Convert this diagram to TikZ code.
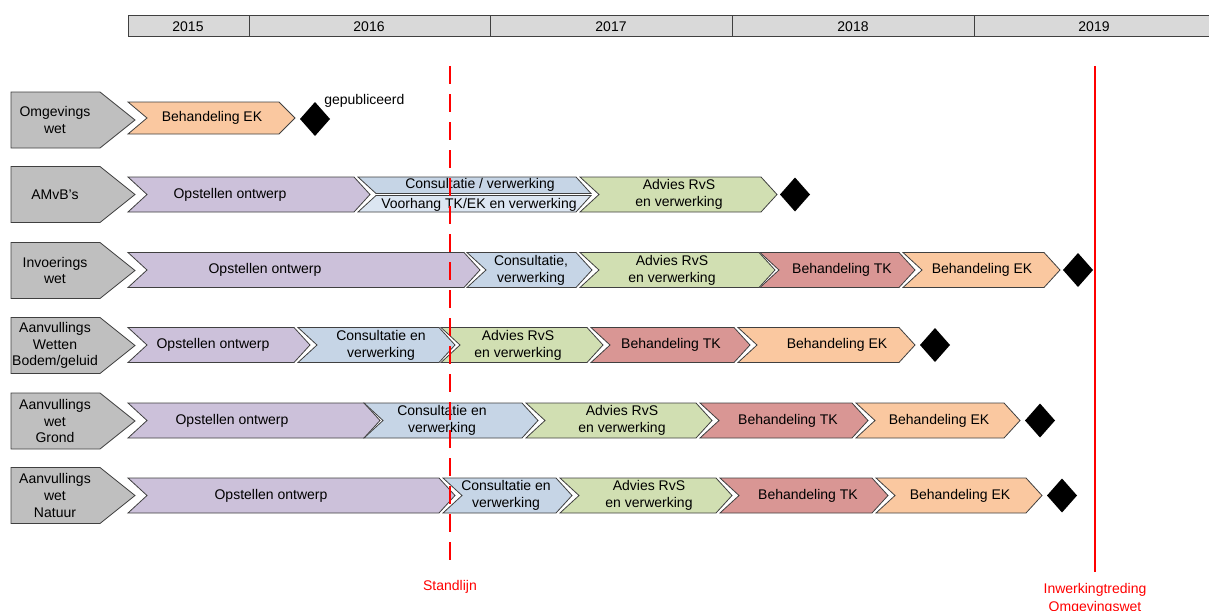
\documentclass[tikz,border=0pt]{standalone}
\usepackage{fontspec}
\setmainfont{Liberation Sans}
\definecolor{gry}{HTML}{BFBFBF}
\definecolor{yr}{HTML}{D9D9D9}
\definecolor{purp}{HTML}{CCC1DA}
\definecolor{blu}{HTML}{C6D5E6}
\definecolor{bluL}{HTML}{DCE6F2}
\definecolor{grn}{HTML}{D1DFB2}
\definecolor{tkc}{HTML}{D99694}
\definecolor{ekc}{HTML}{FAC8A0}
\definecolor{edge}{HTML}{404040}
\tikzset{
  shapeline/.style={draw=edge, line width=0.6pt, line join=miter},
  txt/.style={inner sep=0pt, align=center, font=\fontsize{10.5}{12.6}\selectfont},
  redtxt/.style={txt, text=red},
}
\def\dep{16}
\def\ndep{19}
\def\hh{17.5}
\newcommand\mychev[7]{%
  \filldraw[shapeline, fill=#4] (#1,{#3-\hh}) -- ({#2-\dep},{#3-\hh}) -- (#2,#3) -- ({#2-\dep},{#3+\hh}) -- (#1,{#3+\hh}) -- ({#1+\ndep},#3) -- cycle;
  \node[txt] (#7) at (#5,#3) {#6};}
\newcommand\mydia[3]{%
  \fill[black] ({#1-15},#2) -- (#1,{#2-17}) -- ({#1+15},#2) -- (#1,{#2+17}) -- cycle;
  \coordinate (#3) at (#1,#2);}
\newcommand\mylab[3]{%
  \filldraw[shapeline, fill=gry] (11,{#1-28}) -- (100,{#1-28}) -- (135,#1) -- (100,{#1+28}) -- (11,{#1+28}) -- cycle;
  \node[txt] (#3) at (55,#1) {#2};}
\begin{document}
\begin{tikzpicture}[x=0.75pt,y=-0.75pt]
\useasboundingbox (0,0) rectangle (1209,610);
% timeline
\filldraw[fill=yr, draw=edge, line width=0.75pt] (128,16) rectangle (1212,37);
\foreach \xx in {249,490,732,974} \draw[edge, line width=0.75pt] (\xx,16) -- (\xx,37);
\node[txt] (y15) at (188,26.5) {2015};
\node[txt] (y16) at (369,26.5) {2016};
\node[txt] (y17) at (611,26.5) {2017};
\node[txt] (y18) at (853,26.5) {2018};
\node[txt] (y19) at (1094,26.5) {2019};
% row labels
\mylab{120}{Omgevings\\wet}{l1}
\mylab{194.5}{AMvB’s}{l2}
\mylab{270.5}{Invoerings\\wet}{l3}
\mylab{345.5}{Aanvullings\\Wetten\\Bodem/geluid}{l4}
\mylab{421}{Aanvullings\\wet\\Grond}{l5}
\mylab{495.5}{Aanvullings\\wet\\Natuur}{l6}
% row 1
\def\hh{16}
\mychev{128}{295}{118}{ekc}{212}{Behandeling EK}{r1ek}
\def\hh{17.5}
\mydia{315}{119}{d1}
\node[txt, anchor=west] (pub) at (324,101) {gepubliceerd};
% row 2
\mychev{128}{370}{194.5}{purp}{230}{Opstellen ontwerp}{r2op}
\filldraw[shapeline, fill=blu] (358,177) -- (576,177) -- (591,193.5) -- (376,193.5) -- cycle;
\filldraw[shapeline, fill=bluL] (376,195.5) -- (591,195.5) -- (576,212) -- (358,212) -- cycle;
\node[txt] (r2c) at (480,185) {Consultatie / verwerking};
\node[txt] (r2v) at (479,204.5) {Voorhang TK/EK en verwerking};
\mychev{580}{777}{194.5}{grn}{679}{Advies RvS\\en verwerking}{r2adv}
\mydia{795}{194.5}{d2}
% row 3
\mychev{128}{480}{270}{purp}{265}{Opstellen ontwerp}{r3op}
\mychev{467}{592}{270}{blu}{531}{Consultatie,\\verwerking}{r3c}
\mychev{580}{775}{270}{grn}{672}{Advies RvS\\en verwerking}{r3adv}
\mychev{760}{915}{270}{tkc}{842}{Behandeling TK}{r3tk}
\mychev{903}{1060}{270}{ekc}{982}{Behandeling EK}{r3ek}
\mydia{1078}{270}{d3}
% row 4
\mychev{128}{310}{345}{purp}{213}{Opstellen ontwerp}{r4op}
\mychev{298}{455}{345}{blu}{381}{Consultatie en\\verwerking}{r4c}
\mychev{441}{603}{345}{grn}{518}{Advies RvS\\en verwerking}{r4adv}
\mychev{591}{750}{345}{tkc}{671}{Behandeling TK}{r4tk}
\mychev{738}{915}{345}{ekc}{837}{Behandeling EK}{r4ek}
\mydia{935}{345}{d4}
% row 5
\mychev{128}{380}{420.5}{purp}{232}{Opstellen ontwerp}{r5op}
\mychev{364}{538}{420.5}{blu}{442}{Consultatie en\\verwerking}{r5c}
\mychev{526}{712}{420.5}{grn}{622}{Advies RvS\\en verwerking}{r5adv}
\mychev{700}{868}{420.5}{tkc}{788}{Behandeling TK}{r5tk}
\mychev{856}{1020}{420.5}{ekc}{939}{Behandeling EK}{r5ek}
\mydia{1040}{420.5}{d5}
% row 6
\mychev{128}{455}{495.5}{purp}{271}{Opstellen ontwerp}{r6op}
\mychev{443}{572}{495.5}{blu}{506}{Consultatie en\\verwerking}{r6c}
\mychev{560}{732}{495.5}{grn}{649}{Advies RvS\\en verwerking}{r6adv}
\mychev{720}{888}{495.5}{tkc}{808}{Behandeling TK}{r6tk}
\mychev{876}{1042}{495.5}{ekc}{960}{Behandeling EK}{r6ek}
\mydia{1062}{495.5}{d6}
% lines
\coordinate (s1) at (450,66);
\coordinate (s2) at (450,570);
\draw[red, line width=1.5pt, dash pattern=on 13.5pt off 7.5pt] (s1) -- (s2);
\coordinate (w1) at (1095,66);
\coordinate (w2) at (1095,572);
\draw[red, line width=1.5pt] (w1) -- (w2);
\node[redtxt] (stand) at (450,587) {Standlijn};
\node[redtxt] (inw) at (1095,589.5) {Inwerkingtreding};
\node[redtxt] (omg) at (1095,607.5) {Omgevingswet};
\end{tikzpicture}
\end{document}
